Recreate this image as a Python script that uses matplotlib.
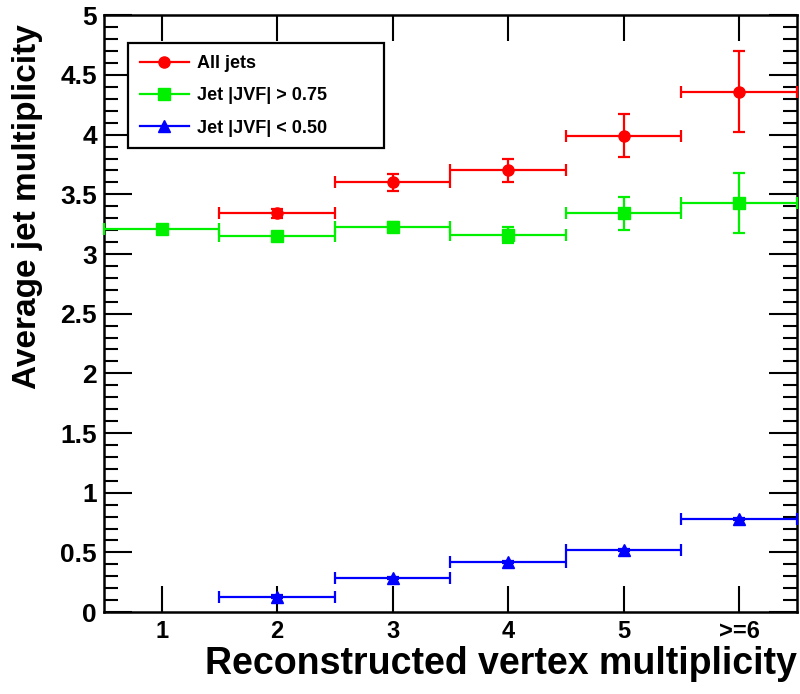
import numpy as np
import matplotlib.pyplot as plt
from matplotlib.lines import Line2D
from matplotlib.ticker import MultipleLocator

plt.rcParams['font.family'] = ['Liberation Sans', 'DejaVu Sans']

# vertex multiplicity bins (last bin is ">=6")
vtx_bins = [1, 2, 3, 4, 5, 6]
vtx_labels = ['1', '2', '3', '4', '5', '>=6']
bin_half_width = 0.5

# all jets (no entry in the first bin)
all_x = [2, 3, 4, 5, 6]
all_mean = [3.34, 3.60, 3.70, 3.99, 4.36]
all_err = [0.04, 0.07, 0.10, 0.18, 0.34]

# jets with |JVF| > 0.75
hi_x = [1, 2, 3, 4, 5, 6]
hi_mean = [3.21, 3.15, 3.23, 3.16, 3.34, 3.43]
hi_err = [0.02, 0.02, 0.04, 0.07, 0.14, 0.25]

# jets with |JVF| < 0.50
lo_x = [2, 3, 4, 5, 6]
lo_mean = [0.13, 0.285, 0.42, 0.52, 0.78]
lo_err = [0.01, 0.01, 0.01, 0.01, 0.01]

series = [
    (all_x, all_mean, all_err, '#ff0000', 'o', 'All jets'),
    (hi_x, hi_mean, hi_err, '#00f000', 's', 'Jet |JVF| > 0.75'),
    (lo_x, lo_mean, lo_err, '#0000ff', '^', 'Jet |JVF| < 0.50'),
]

fig = plt.figure(figsize=(8, 6.94), dpi=100)
ax = fig.add_axes([0.13, 0.118, 0.866, 0.86])

handles = []
for x, y, e, col, mk, lab in series:
    ax.errorbar(x, y, xerr=bin_half_width, yerr=e, fmt=mk, color=col,
                ecolor=col, elinewidth=1.6, capsize=4, capthick=1.6,
                markersize=8, clip_on=False, zorder=3)
    handles.append(Line2D([], [], color=col, marker=mk, lw=1.6,
                          markersize=8, label=lab))

ax.set_xlim(0.5, 6.5)
ax.set_ylim(0, 5)
ax.set_xticks(vtx_bins)
ax.set_xticklabels(vtx_labels)
ax.yaxis.set_minor_locator(MultipleLocator(0.1))
ax.set_yticks(np.arange(0, 5.01, 0.5))
ax.set_yticklabels(['0', '0.5', '1', '1.5', '2', '2.5', '3', '3.5', '4', '4.5', '5'])

ax.tick_params(axis='y', which='major', direction='in', length=20, width=1.5,
               left=True, right=True, labelsize=19, pad=5)
ax.tick_params(axis='y', which='minor', direction='in', length=10, width=1.5,
               left=True, right=True)
ax.tick_params(axis='x', which='major', direction='in', length=19, width=1.5,
               bottom=True, top=True, labelsize=17, pad=6)
for lbl in ax.get_xticklabels() + ax.get_yticklabels():
    lbl.set_fontweight('bold')

for sp in ax.spines.values():
    sp.set_linewidth(1.8)

ax.set_xlabel('Reconstructed vertex multiplicity', fontsize=27,
              fontweight='bold', loc='right', labelpad=2)
ax.set_ylabel('Average jet multiplicity', fontsize=24,
              fontweight='bold', loc='top')
ax.yaxis.set_label_coords(-0.088, 0.985)

leg = ax.legend(handles=handles, loc='upper left', mode='expand',
                bbox_to_anchor=(0.035, 0.794, 0.369, 0.159), borderaxespad=0,
                prop={'weight': 'bold', 'size': 13},
                handlelength=2.7, handletextpad=0.45, labelspacing=0.85,
                borderpad=0.65, fancybox=False, framealpha=1,
                edgecolor='black')
leg.get_frame().set_linewidth(1.6)

fig.savefig('out.png', dpi=100)
